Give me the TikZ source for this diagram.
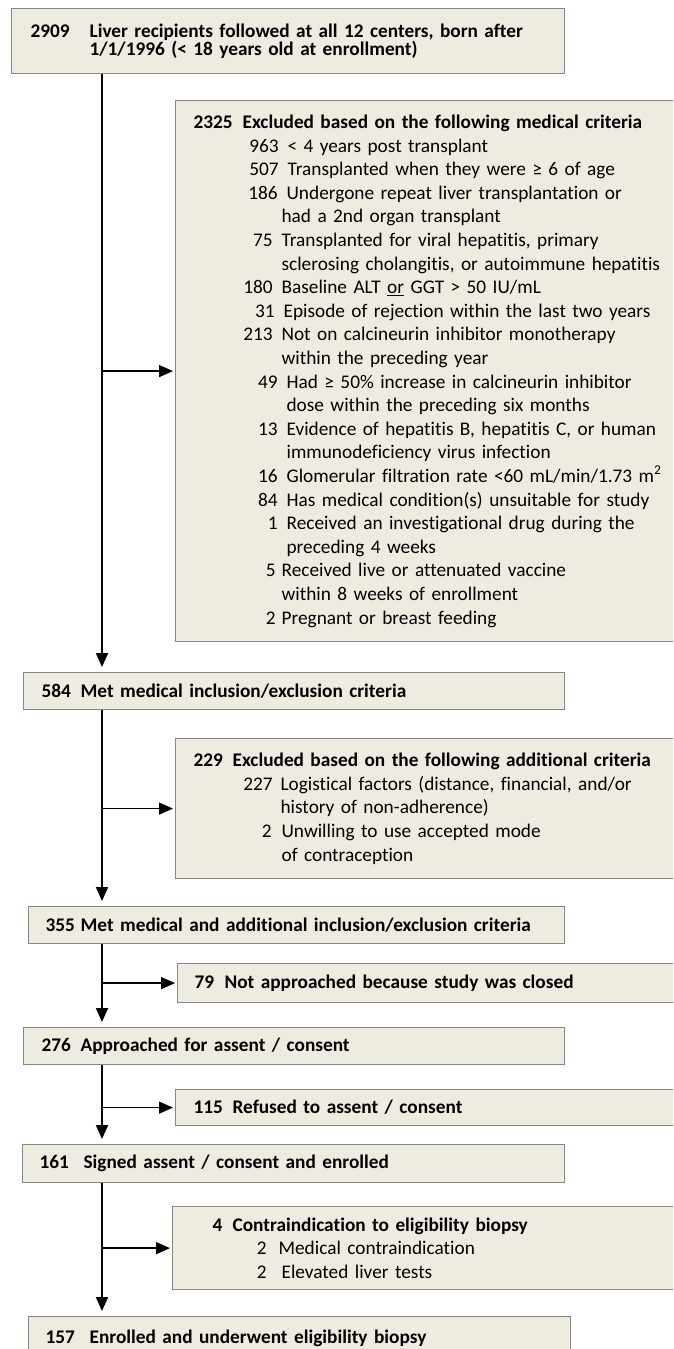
\documentclass[tikz,border=0pt]{standalone}
\usepackage{fontspec}
\setmainfont{Carlito}[Ligatures=NoCommon]
\usetikzlibrary{arrows.meta}

\definecolor{boxfill}{RGB}{238,235,225}
\definecolor{boxline}{RGB}{135,135,135}

% numbered line: [gap]{text start}{count}{text}
\newcommand{\crit}[4][9pt]{\hspace*{#2pt}\llap{#3\hspace{#1}}#4}
\newcommand{\cont}[2]{\hspace*{#1pt}#2}

\begin{document}
\begin{tikzpicture}[x=1pt, y=-1pt,
    box/.style={draw=boxline, fill=boxfill, line width=1.2pt, anchor=north west,
      align=left, inner ysep=0pt, font=\fontsize{19.3}{23.6}\selectfont},
    stage/.style={box, font=\bfseries\fontsize{19.3}{23.6}\selectfont},
    trunk/.style={line width=2pt, -{Triangle[length=14pt,width=12pt]}, shorten >=5pt},
    branch/.style={line width=1.4pt, -{Triangle[length=14pt,width=12pt]}, shorten >=2pt}]
  \clip[use as bounding box] (0,0) rectangle (673,1349);

  \node[stage, inner xsep=19pt, text width=515pt, minimum height=65pt,
    font=\bfseries\fontsize{19.3}{18}\selectfont] (start) at (11,8)
    {\makebox[59pt][l]{2909}Liver recipients followed at all 12 centers, born after\\
     \hspace*{59pt}1/1/1996 (< 18 years old at enrollment)};

  \node[box, inner xsep=18pt, text width=489pt, minimum height=541pt] (excl1) at (175,100) {%
    \textbf{\makebox[49pt][l]{2325}Excluded based on the following medical criteria}\\
    \crit{94}{963}{< 4 years post transplant}\\
    \crit{94}{507}{Transplanted when they were ≥ 6 of age}\\
    \crit{93}{186}{Undergone repeat liver transplantation or}\\
    \cont{88}{had a 2nd organ transplant}\\
    \crit{88}{75}{Transplanted for viral hepatitis, primary}\\
    \cont{88}{sclerosing cholangitis, or autoimmune hepatitis}\\
    \crit{88}{180}{Baseline ALT \underline{or} GGT > 50 IU/mL}\\
    \crit{90}{31}{Episode of rejection within the last two years}\\
    \crit{88}{213}{Not on calcineurin inhibitor monotherapy}\\
    \cont{88}{within the preceding year}\\
    \crit{93}{49}{Had ≥ 50\% increase in calcineurin inhibitor}\\
    \cont{93}{dose within the preceding six months}\\
    \crit{93}{13}{Evidence of hepatitis B, hepatitis C, or human}\\
    \cont{93}{immunodeficiency virus infection}\\
    \crit{93}{16}{Glomerular filtration rate <60 mL/min/1.73 m\textsuperscript{2}}\\
    \crit{93}{84}{Has medical condition(s) unsuitable for study}\\
    \crit{93}{1}{Received an investigational drug during the}\\
    \cont{93}{preceding 4 weeks}\\
    \crit[6pt]{88}{5}{Received live or attenuated vaccine}\\
    \cont{88}{within 8 weeks of enrollment}\\
    \crit[6pt]{88}{2}{Pregnant or breast feeding}};

  \node[stage, inner xsep=18pt, text width=505pt, minimum height=37pt] (met1) at (23,672)
    {\makebox[39pt][l]{584}Met medical inclusion/exclusion criteria};

  \node[box, inner xsep=18pt, text width=489pt, minimum height=140pt] (excl2) at (175,738) {%
    \textbf{\makebox[39pt][l]{229}Excluded based on the following additional criteria}\\
    \crit[8pt]{87}{227}{Logistical factors (distance, financial, and/or}\\
    \cont{87}{history of non-adherence)}\\
    \crit[10pt]{88}{2}{Unwilling to use accepted mode}\\
    \cont{88}{of contraception}};

  \node[stage, inner xsep=17pt, text width=502pt, minimum height=37pt] (met2) at (28,906)
    {\makebox[35pt][l]{355}Met medical and additional inclusion/exclusion criteria};

  \node[stage, inner xsep=17pt, text width=489pt, minimum height=39pt] (closed) at (177,963)
    {\makebox[30pt][l]{79}Not approached because study was closed};

  \node[stage, inner xsep=18pt, text width=505pt, minimum height=37pt] (appr) at (23,1027)
    {\makebox[39pt][l]{276}Approached for assent / consent};

  \node[stage, inner xsep=18pt, text width=489pt, minimum height=36pt] (refused) at (175,1089)
    {\makebox[39pt][l]{115}Refused to assent / consent};

  \node[stage, inner xsep=17pt, text width=508pt, minimum height=38pt] (enrolled) at (22,1144)
    {\makebox[44pt][l]{161}Signed assent / consent and enrolled};

  \node[box, inner xsep=40pt, text width=448pt, minimum height=83pt] (contra) at (172,1206) {%
    \textbf{\makebox[20pt][l]{4}Contraindication to eligibility biopsy}\\
    \crit[12pt]{66}{2}{Medical contraindication}\\
    \crit[15pt]{69}{2}{Elevated liver tests}};

  \node[stage, inner xsep=17pt, text width=508pt, minimum height=44pt] (final) at (28,1316)
    {\makebox[44pt][l]{157}Enrolled and underwent eligibility biopsy};

  % flow down the left side
  \coordinate (spine) at (102,0);
  \draw[trunk] (start.south -| spine) -- (met1.north -| spine);
  \draw[branch] (excl1.west -| spine) -- (excl1.west);
  \draw[trunk] (met1.south -| spine) -- (met2.north -| spine);
  \draw[branch] (excl2.west -| spine) -- (excl2.west);
  \draw[trunk] (met2.south -| spine) -- (appr.north -| spine);
  \draw[branch] (closed.west -| spine) -- (closed.west);
  \draw[trunk] (appr.south -| spine) -- (enrolled.north -| spine);
  \draw[branch] (refused.west -| spine) -- (refused.west);
  \draw[trunk] (enrolled.south -| spine) -- (final.north -| spine);
  \draw[branch] (contra.west -| spine) -- (contra.west);
\end{tikzpicture}
\end{document}
